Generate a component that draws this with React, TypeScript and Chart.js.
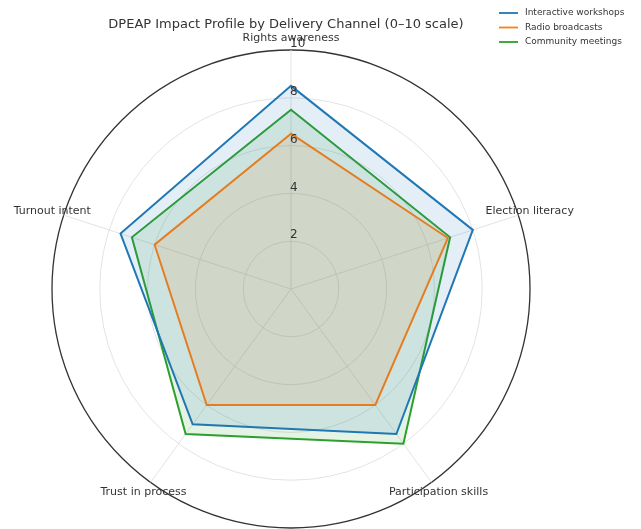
import React, { useEffect, useRef } from "react";
import { Chart, registerables } from "chart.js";

Chart.register(...registerables);

const categories = ["Rights awareness", "Election literacy", "Participation skills", "Trust in process", "Turnout intent"];
const workshops = [8.5, 8.0, 7.5, 7.0, 7.5];
const radio = [6.5, 6.9, 6.0, 6.0, 6.0];
const community = [7.5, 7.0, 8.0, 7.5, 7.0];
const seriesNames = ["Interactive workshops", "Radio broadcasts", "Community meetings"];
const seriesColors = ["#1f77b4", "#ff7f0e", "#2ca02c"];
const titleText = "DPEAP Impact Profile by Delivery Channel (0–10 scale)";
const FONT = '"DejaVu Sans", sans-serif';

function hexA(hex: string, a: number) {
  const n = parseInt(hex.slice(1), 16);
  return `rgba(${(n >> 16) & 255},${(n >> 8) & 255},${n & 255},${a})`;
}

const overlay = {
  id: "overlay",
  afterDraw(chart: any) {
    const ctx = chart.ctx;
    const r = chart.scales.r;
    ctx.save();
    // radial tick labels
    ctx.font = `12px ${FONT}`;
    ctx.fillStyle = "#333";
    ctx.textAlign = "left";
    ctx.textBaseline = "middle";
    r.ticks.forEach((t: any) => {
      if (t.value === 0) return;
      const d = r.getDistanceFromCenterForValue(t.value);
      ctx.fillText(String(t.value), r.xCenter - 1, r.yCenter - d - 6);
    });
    // point labels
    ctx.font = `11px ${FONT}`;
    ctx.textAlign = "center";
    const outer = r.getDistanceFromCenterForValue(10) + 12;
    categories.forEach((c, i) => {
      const p = r.getPointPosition(i, outer);
      ctx.fillText(c, p.x, p.y);
    });
    // title
    ctx.font = `13px ${FONT}`;
    ctx.fillText(titleText, 286, 25);
    // legend
    ctx.font = `9px ${FONT}`;
    ctx.textAlign = "left";
    seriesNames.forEach((n, i) => {
      const y = 13 + i * 14.5;
      ctx.strokeStyle = seriesColors[i];
      ctx.lineWidth = 1.8;
      ctx.beginPath();
      ctx.moveTo(499, y);
      ctx.lineTo(518, y);
      ctx.stroke();
      ctx.fillStyle = "#333";
      ctx.fillText(n, 525, y);
    });
    ctx.restore();
  },
};

export default function App() {
  const ref = useRef<HTMLCanvasElement>(null);
  useEffect(() => {
    const data = [workshops, radio, community];
    const chart = new Chart(ref.current!, {
      type: "radar",
      data: {
        labels: categories,
        datasets: data.map((d, i) => ({
          label: seriesNames[i],
          data: d,
          borderColor: seriesColors[i],
          backgroundColor: hexA(seriesColors[i], 0.12),
          borderWidth: 2,
          pointRadius: 0,
          fill: true,
        })),
      },
      options: {
        responsive: false,
        animation: false,
        layout: { padding: { left: 52, right: 111, top: 50, bottom: 1 } },
        plugins: { legend: { display: false }, title: { display: false }, tooltip: { enabled: false } },
        scales: {
          r: {
            min: 0,
            max: 10,
            ticks: { stepSize: 2, display: false },
            pointLabels: { display: false },
            grid: {
              circular: true,
              color: (c: any) => (c.tick && c.tick.value === 10 ? "#333" : "#e0e0e0"),
              lineWidth: (c: any) => (c.tick && c.tick.value === 10 ? 1.3 : 0.9),
            },
            angleLines: { color: "#e0e0e0", lineWidth: 0.9 },
          },
        },
      },
      plugins: [overlay],
    });
    return () => chart.destroy();
  }, []);
  return (
    <div style={{ position: "fixed", left: 0, top: 0, width: 641, height: 529, background: "#fff" }}>
      <canvas ref={ref} width={641} height={529} />
    </div>
  );
}
